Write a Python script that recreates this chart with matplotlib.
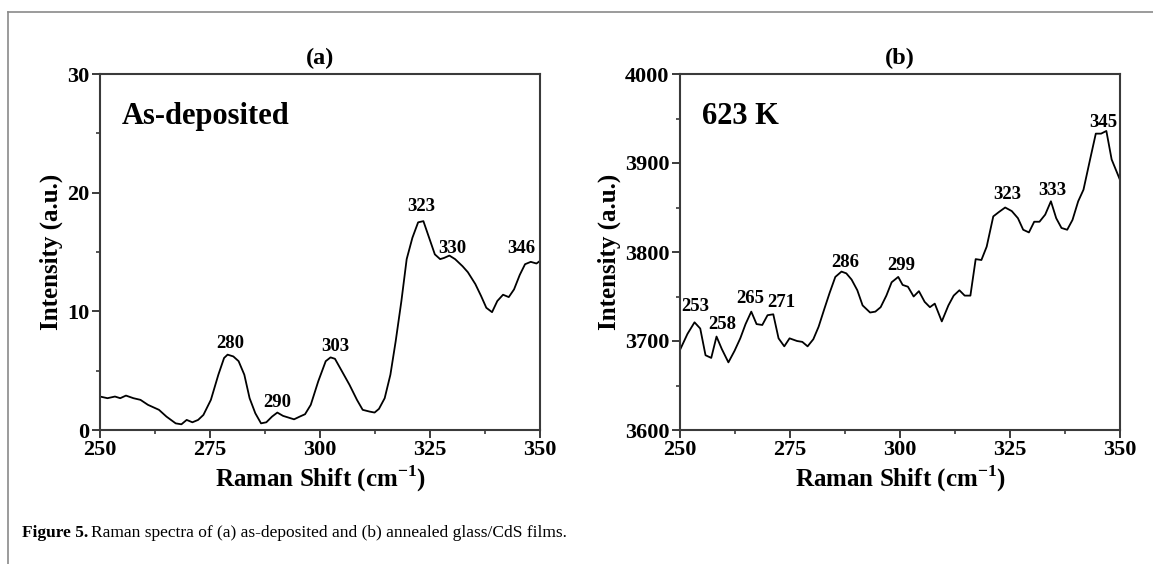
import matplotlib
matplotlib.use("Agg")
import matplotlib.pyplot as plt
from matplotlib.lines import Line2D
from matplotlib.ticker import MultipleLocator

plt.rcParams['font.family'] = ['Liberation Serif', 'DejaVu Serif']
plt.rcParams['mathtext.fontset'] = 'custom'
plt.rcParams['mathtext.rm'] = 'Liberation Serif:bold'
plt.rcParams['mathtext.bf'] = 'Liberation Serif:bold'

# (a) as-deposited spectrum
shift_a = [250.0, 251.7, 253.4, 254.6, 255.9, 257.6, 259.2, 260.9, 263.4, 265.1,
           267.2, 268.5, 269.7, 271.0, 272.3, 273.5, 275.2, 276.9, 278.2, 279.0,
           280.3, 281.5, 282.8, 284.0, 285.3, 286.6, 287.8, 289.1, 290.3, 291.6,
           292.9, 294.1, 295.4, 296.6, 297.9, 299.6, 301.3, 302.4, 303.4, 305.0,
           306.7, 308.4, 309.7, 311.3, 312.4, 313.4, 314.7, 316.0, 317.2, 318.5,
           319.7, 321.0, 322.3, 323.5, 324.8, 326.1, 327.3, 328.2, 329.4, 330.7,
           332.4, 333.6, 335.3, 336.6, 337.8, 339.1, 340.3, 341.6, 342.9, 344.1,
           345.4, 346.6, 347.9, 349.2, 350.0]
intensity_a = [2.82, 2.68, 2.82, 2.68, 2.90, 2.68, 2.54, 2.12, 1.70, 1.13,
               0.56, 0.48, 0.85, 0.65, 0.85, 1.27, 2.54, 4.66, 6.07, 6.35,
               6.20, 5.80, 4.66, 2.68, 1.41, 0.56, 0.65, 1.13, 1.47, 1.19,
               1.04, 0.90, 1.13, 1.33, 2.12, 4.10, 5.80, 6.12, 6.00, 4.94,
               3.81, 2.54, 1.70, 1.55, 1.47, 1.78, 2.68, 4.66, 7.48, 10.87,
               14.40, 16.20, 17.50, 17.60, 16.20, 14.80, 14.40, 14.50, 14.70, 14.40,
               13.80, 13.30, 12.30, 11.30, 10.30, 9.93, 10.87, 11.40, 11.20, 11.85,
               13.07, 13.97, 14.17, 14.03, 14.25]
peaks_a = ['280', '290', '303', '323', '330', '346']
peak_x_a = [279.6, 290.3, 303.4, 323.1, 330.0, 345.8]
peak_y_a = [6.6, 1.6, 6.3, 18.1, 14.6, 14.6]

# (b) annealed at 623 K
shift_b = [250.0, 251.7, 253.3, 254.6, 255.8, 257.1, 258.3, 259.5, 261.0, 262.4,
           263.7, 264.9, 266.2, 267.4, 268.7, 269.9, 271.2, 272.4, 273.7, 274.9,
           276.6, 277.8, 279.0, 280.3, 281.5, 282.8, 284.0, 285.3, 286.7, 287.8,
           289.0, 290.3, 291.5, 293.2, 294.4, 295.6, 296.9, 298.1, 299.6, 300.6,
           301.8, 303.1, 304.3, 305.6, 306.8, 307.9, 309.5, 311.0, 312.2, 313.5,
           314.7, 316.0, 317.2, 318.5, 319.7, 321.2, 322.5, 323.9, 325.4, 326.8,
           328.0, 329.3, 330.5, 331.7, 333.0, 334.3, 335.5, 336.7, 338.0, 339.2,
           340.5, 341.7, 343.2, 344.5, 345.7, 346.9, 348.1, 350.0]
intensity_b = [3690, 3708, 3721, 3714, 3684, 3681, 3705, 3691, 3676, 3689,
               3703, 3719, 3733, 3719, 3718, 3729, 3730, 3703, 3694, 3703,
               3700, 3699, 3694, 3702, 3716, 3736, 3754, 3772, 3778, 3776,
               3769, 3757, 3740, 3732, 3733, 3738, 3751, 3766, 3772, 3763,
               3761, 3750, 3756, 3744, 3738, 3742, 3722, 3740, 3751, 3757,
               3751, 3751, 3792, 3791, 3806, 3840, 3845, 3850, 3846, 3838,
               3825, 3822, 3834, 3834, 3842, 3857, 3838, 3827, 3825, 3836,
               3857, 3870, 3904, 3933, 3933, 3936, 3904, 3881]
peaks_b = ['253', '258', '265', '271', '286', '299', '323', '333', '345']
peak_x_b = [253.5, 259.5, 266.0, 273.0, 287.5, 300.2, 324.3, 334.6, 346.3]
peak_y_b = [3729, 3709, 3738, 3734, 3779, 3775, 3855, 3860, 3936]

W, H = 1153, 564
fig = plt.figure(figsize=(W / 100, H / 100), dpi=100)

def style_axes(ax, ymaj, ymin):
    for sp in ax.spines.values():
        sp.set_linewidth(1.5)
        sp.set_color('#3a3a3a')
    ax.xaxis.set_major_locator(MultipleLocator(25))
    ax.xaxis.set_minor_locator(MultipleLocator(12.5))
    ax.yaxis.set_major_locator(MultipleLocator(ymaj))
    ax.yaxis.set_minor_locator(MultipleLocator(ymin))
    ax.tick_params(which='major', direction='out', length=5.5, width=1.4,
                   color='#3a3a3a', labelsize=16, top=False, right=False, pad=2)
    ax.tick_params(which='minor', direction='out', length=3, width=1.2,
                   color='#3a3a3a', top=False, right=False)
    for lab in ax.get_xticklabels() + ax.get_yticklabels():
        lab.set_fontweight('bold')
    ax.set_xlabel('Raman Shift (cm$^{-1}$)', fontsize=18, fontweight='bold', labelpad=2)
    ax.set_ylabel('Intensity (a.u.)', fontsize=18, fontweight='bold', labelpad=3)

# panel (a)
ax1 = fig.add_axes([100 / W, 1 - 430 / H, 440 / W, 356 / H])
ax1.plot(shift_a, intensity_a, color='black', lw=1.3)
ax1.set_xlim(250, 350)
ax1.set_ylim(0, 30)
style_axes(ax1, 10, 5)
ax1.set_title('(a)', fontsize=17.5, fontweight='bold', pad=7)
ax1.text(0.05, 0.92, 'As-deposited', transform=ax1.transAxes, fontsize=22,
         fontweight='bold', va='top', ha='left')
for t, x, y in zip(peaks_a, peak_x_a, peak_y_a):
    ax1.text(x, y, t, fontsize=13.5, fontweight='bold', ha='center', va='bottom')

# panel (b)
ax2 = fig.add_axes([680 / W, 1 - 430 / H, 440 / W, 356 / H])
ax2.plot(shift_b, intensity_b, color='black', lw=1.3)
ax2.set_xlim(250, 350)
ax2.set_ylim(3600, 4000)
style_axes(ax2, 100, 50)
ax2.set_title('(b)', fontsize=17.5, fontweight='bold', pad=7)
ax2.text(0.05, 0.92, '623 K', transform=ax2.transAxes, fontsize=22,
         fontweight='bold', va='top', ha='left')
for t, x, y in zip(peaks_b, peak_x_b, peak_y_b):
    ax2.text(x, y, t, fontsize=13.5, fontweight='bold', ha='center', va='bottom')

# page frame lines
fig.add_artist(Line2D([8 / W, 1], [1 - 12 / H, 1 - 12 / H], transform=fig.transFigure,
                      color='#8a8a8a', lw=1.2))
fig.add_artist(Line2D([8 / W, 8 / W], [0, 1 - 12 / H], transform=fig.transFigure,
                      color='#8a8a8a', lw=1.2))

# caption
cap1 = fig.text(22 / W, 1 - 533 / H, 'Figure 5.', fontsize=12.5, fontweight='bold',
                va='center', ha='left')
fig.canvas.draw()
bb = cap1.get_window_extent()
fig.text(bb.x1 / W + 3 / W, 1 - 533 / H,
         'Raman spectra of (a) as-deposited and (b) annealed glass/CdS films.',
         fontsize=12.5, va='center', ha='left')

fig.savefig('out.png', dpi=100)
